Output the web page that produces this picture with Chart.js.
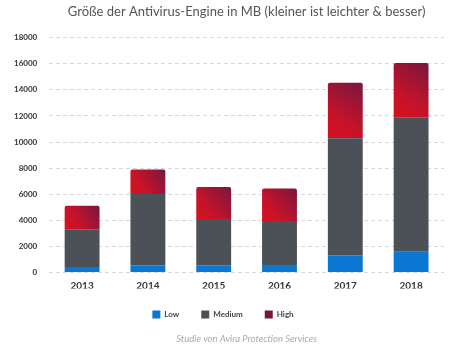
<!DOCTYPE html>
<html>
<head>
<meta charset="utf-8">
<script src="https://cdn.jsdelivr.net/npm/chart.js@4/dist/chart.umd.min.js"></script>
<style>
  html, body { margin: 0; padding: 0; background: #fff; }
  #wrap { width: 450px; height: 348px; position: relative; }
</style>
</head>
<body>
<div id="wrap"><canvas id="myChart"></canvas></div>
<script>
const years = ['2013', '2014', '2015', '2016', '2017', '2018'];
const lowValues = [430, 560, 560, 580, 1330, 1600];
const mediumValues = [2900, 5460, 3540, 3370, 8970, 10300];
const highValues = [1800, 1880, 2450, 2500, 4250, 4150];
const yTicks = [0, 2000, 4000, 6000, 8000, 10000, 12000, 14000, 16000, 18000];

// degradado rojo -> morado para cada barra "High"
function highColor(ctx) {
  const chart = ctx.chart;
  if (ctx.dataIndex === undefined || !chart.chartArea || !chart.scales.x) {
    return '#b0162f';
  }
  const i = ctx.dataIndex;
  const x = chart.scales.x.getPixelForValue(i);
  const yTop = chart.scales.y.getPixelForValue(lowValues[i] + mediumValues[i] + highValues[i]);
  const yBot = chart.scales.y.getPixelForValue(lowValues[i] + mediumValues[i]);
  const g = chart.ctx.createLinearGradient(x - 18, yBot, x + 18, yTop);
  g.addColorStop(0, '#d8111c');
  g.addColorStop(0.35, '#c5132a');
  g.addColorStop(1, '#77173d');
  return g;
}

const data = {
  labels: years,
  datasets: [
    { label: 'Low', data: lowValues, backgroundColor: '#0a78d2', barPercentage: 0.53, categoryPercentage: 1 },
    { label: 'Medium', data: mediumValues, backgroundColor: '#4b5157', barPercentage: 0.53, categoryPercentage: 1 },
    { label: 'High', data: highValues, backgroundColor: highColor, barPercentage: 0.53, categoryPercentage: 1,
      borderRadius: { topLeft: 2, topRight: 2 }, borderSkipped: false }
  ]
};

const config = {
  type: 'bar',
  data: data,
  options: {
    responsive: true,
    maintainAspectRatio: false,
    animation: false,
    layout: { padding: { left: 2, right: 6, top: 0, bottom: 0 } },
    scales: {
      x: {
        stacked: true,
        grid: { display: false, drawTicks: false },
        border: { display: false },
        ticks: { color: '#333', font: { family: 'Lato', size: 10, weight: 'bold' }, padding: 7 },
        afterFit: (scale) => { scale.height = scale.height - 10; }
      },
      y: {
        stacked: true,
        min: 0,
        max: 18000,
        afterBuildTicks: (axis) => { axis.ticks = yTicks.map(v => ({ value: v })); },
        grid: { color: '#d9d9d9', lineWidth: 1, drawTicks: false },
        border: { display: false, dash: [4, 3] },
        ticks: {
          color: '#333', font: { family: 'Lato', size: 8, weight: 'bold' }, padding: 12,
          callback: (v) => String(v)
        }
      }
    },
    plugins: {
      title: {
        display: true,
        fullSize: false,
        text: 'Größe der Antivirus-Engine in MB (kleiner ist leichter & besser)',
        color: '#555',
        font: { family: 'Lato', size: 13, weight: 'normal' },
        padding: { top: 4, bottom: 18 }
      },
      subtitle: {
        display: true,
        fullSize: false,
        position: 'bottom',
        text: 'Studie von Avira Protection Services',
        color: '#aaa',
        font: { family: 'Lato', size: 9.5, style: 'italic' },
        padding: { top: 9, bottom: 3 }
      },
      legend: {
        position: 'bottom',
        fullSize: true,
        maxHeight: 36,
        labels: { boxWidth: 8, boxHeight: 8, padding: 22, color: '#444', font: { family: 'Lato', size: 8, weight: 'bold' } }
      },
      tooltip: { enabled: false }
    }
  }
};

const myChart = new Chart(document.getElementById('myChart'), config);
</script>
</body>
</html>
